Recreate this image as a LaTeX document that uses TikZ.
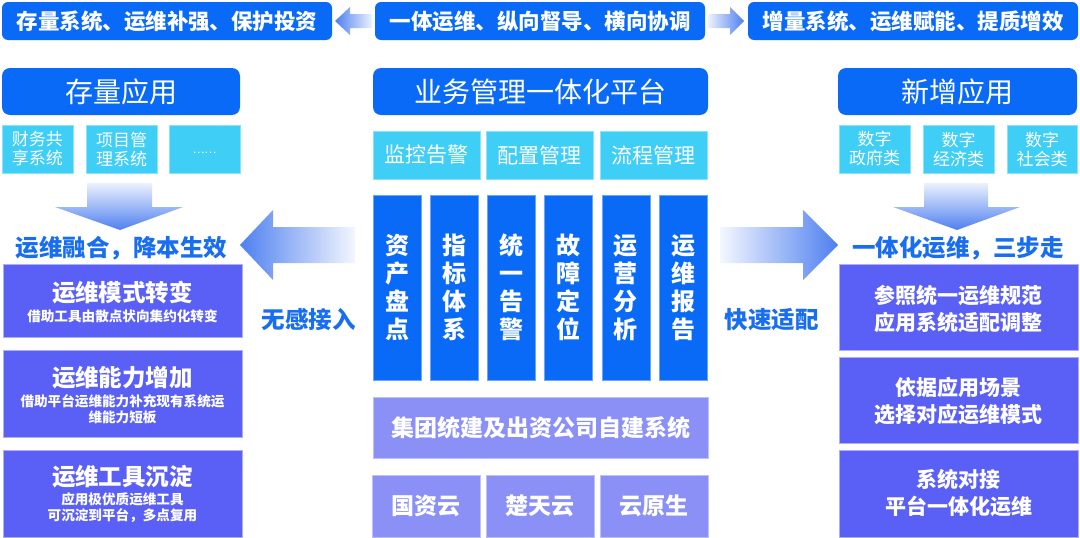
\documentclass[tikz,border=0pt]{standalone}
\usepackage{fontspec}
\newfontfamily\cjk{Noto Sans CJK SC}
\definecolor{mainblue}{RGB}{10,106,248}
\definecolor{cyanbox}{RGB}{62,206,246}
\definecolor{purplebox}{RGB}{90,96,246}
\definecolor{lavbox}{RGB}{138,144,246}
\definecolor{txtblue}{RGB}{24,110,240}
\definecolor{arrblue}{RGB}{78,128,240}
\definecolor{arrlight}{RGB}{236,241,253}
\tikzset{
  basebox/.style={inner sep=0pt, outer sep=0pt, text=white, align=center},
  topbox/.style={basebox, fill=mainblue, rounded corners=6pt, minimum width=330, minimum height=38,
    font=\cjk\bfseries\fontsize{21.5}{24}\selectfont},
  header/.style={basebox, fill=mainblue, rounded corners=8pt, minimum height=47,
    font=\cjk\fontsize{28}{30}\selectfont},
  smallbox/.style={basebox, fill=cyanbox, draw=cyanbox!60!white, line width=0.6pt, minimum width=71, minimum height=48,
    font=\cjk\fontsize{17}{19}\selectfont},
  midbox/.style={basebox, fill=cyanbox, draw=cyanbox!60!white, line width=0.6pt, minimum width=107, minimum height=48,
    font=\cjk\fontsize{21}{24}\selectfont},
  barbox/.style={basebox, fill=mainblue, draw=mainblue!60!white, line width=0.6pt, minimum width=48, minimum height=185,
    font=\cjk\bfseries\fontsize{24}{28}\selectfont},
  lavnode/.style={basebox, fill=lavbox, draw=lavbox!55!white, line width=0.8pt, minimum height=62,
    font=\cjk\bfseries\fontsize{23}{26}\selectfont},
  purpnode/.style={basebox, fill=purplebox, draw=purplebox!50!white, line width=0.8pt, minimum width=239},
  ttl/.style={inner sep=0pt, text=white, font=\cjk\bfseries\fontsize{23.5}{26}\selectfont},
  subttl/.style={inner sep=0pt, text=white, align=center, font=\cjk\bfseries\fontsize{13.6}{16.5}\selectfont},
  rtxt/.style={inner sep=0pt, text=white, align=center, font=\cjk\bfseries\fontsize{21}{27}\selectfont},
  bluetxt/.style={inner sep=0pt, text=txtblue, font=\cjk\bfseries\fontsize{23.5}{26}\selectfont},
}
\begin{document}
\begin{tikzpicture}[x=1pt,y=-1pt]
\useasboundingbox[fill=white] (0,0) rectangle (1080,538);

% top row
\node[topbox] (t1) at (167,21) {存量系统、运维补强、保护投资};
\node[topbox] (t2) at (540,21) {一体运维、纵向督导、横向协调};
\node[topbox] (t3) at (913,21) {增量系统、运维赋能、提质增效};
\shade[left color=arrblue, right color=arrlight]
  (335,21) -- (350,7) -- (350,14) -- (372,14) -- (372,28) -- (350,28) -- (350,35) -- cycle;
\shade[left color=arrlight, right color=arrblue]
  (708,14) -- (730,14) -- (730,7) -- (744,21) -- (730,35) -- (730,28) -- (708,28) -- cycle;

% headers
\node[header, minimum width=238] (hl) at (121,91.5) {存量应用};
\node[header, minimum width=335] (hc) at (540.5,91.5) {业务管理一体化平台};
\node[header, minimum width=239] (hr) at (957.5,91.5) {新增应用};

% small boxes left
\node[smallbox] (s1) at (37.5,149) {财务共\\享系统};
\node[smallbox] (s2) at (121.5,149) {项目管\\理系统};
\node[smallbox] (s3) at (204.5,149) {};
\node[inner sep=0pt, text=white, font=\cjk\fontsize{11}{13}\selectfont] (s3t) at (204.5,153) {……};
% small boxes right
\node[smallbox] (r1) at (874.5,149) {数字\\政府类};
\node[smallbox] (r2) at (958.5,149) {数字\\经济类};
\node[smallbox, minimum width=70] (r3) at (1042,149) {数字\\社会类};

% center mid boxes
\node[midbox] (m1) at (426.5,155) {监控告警};
\node[midbox] (m2) at (539.5,155) {配置管理};
\node[midbox] (m3) at (653.5,155) {流程管理};

% bars
\node[barbox] (b1) at (397,287.5) {资\\产\\盘\\点};
\node[barbox] (b2) at (454.2,287.5) {指\\标\\体\\系};
\node[barbox] (b3) at (511.4,287.5) {统\\一\\告\\警};
\node[barbox] (b4) at (568.6,287.5) {故\\障\\定\\位};
\node[barbox] (b5) at (625.8,287.5) {运\\营\\分\\析};
\node[barbox] (b6) at (683,287.5) {运\\维\\报\\告};

% lower center
\node[lavnode, minimum width=335, minimum height=61] (jt) at (540.5,427.5) {集团统建及出资公司自建系统};
\node[lavnode, minimum width=108] (c1) at (426,506) {国资云};
\node[lavnode, minimum width=108] (c2) at (540,506) {楚天云};
\node[lavnode, minimum width=108] (c3) at (654,506) {云原生};

% down arrows
\shade[top color=arrlight, bottom color=arrblue]
  (87,183) -- (152,183) -- (152,207) -- (183,207) -- (120,230) -- (55,207) -- (87,207) -- cycle;
\shade[top color=arrlight, bottom color=arrblue]
  (924,183) -- (988,183) -- (988,207) -- (1020,207) -- (957,230) -- (893,207) -- (924,207) -- cycle;

% big horizontal arrows
\shade[left color=arrblue, right color=arrlight!60!white]
  (240,245) -- (273,210) -- (273,227) -- (355,227) -- (355,263) -- (273,263) -- (273,280) -- cycle;
\shade[left color=arrlight!60!white, right color=arrblue]
  (720,227) -- (803,227) -- (803,210) -- (838,245) -- (803,280) -- (803,263) -- (720,263) -- cycle;

\node[bluetxt] (lt) at (121.5,248) {运维融合，降本生效};
\node[bluetxt] (rt) at (958,248) {一体化运维，三步走};
\node[bluetxt] (wg) at (308.5,320) {无感接入};
\node[bluetxt] (ks) at (771.5,320) {快速适配};

% left blocks
\node[purpnode, minimum height=73] (L1) at (122.5,300.5) {};
\node[purpnode, minimum height=87] (L2) at (122.5,393.5) {};
\node[purpnode, minimum height=87] (L3) at (122.5,493.5) {};
\node[ttl] (L1t) at (122.5,293) {运维模式转变};
\node[subttl] (L1s) at (122.5,316) {借助工具由散点状向集约化转变};
\node[ttl] (L2t) at (122.5,378) {运维能力增加};
\node[subttl] (L2s) at (122.5,409) {借助平台运维能力补充现有系统运\\维能力短板};
\node[ttl] (L3t) at (122.5,477) {运维工具沉淀};
\node[subttl] (L3s) at (122.5,507.5) {应用极优质运维工具\\可沉淀到平台，多点复用};

% right blocks
\node[purpnode, minimum height=86] (R1) at (958.5,307) {};
\node[purpnode, minimum height=86] (R2) at (958.5,400) {};
\node[purpnode, minimum height=87] (R3) at (958.5,493.5) {};
\node[rtxt] (R1t) at (958.5,308.5) {参照统一运维规范\\应用系统适配调整};
\node[rtxt] (R2t) at (958.5,401.5) {依据应用场景\\选择对应运维模式};
\node[rtxt] (R3t) at (958.5,493.5) {系统对接\\平台一体化运维};
\end{tikzpicture}
\end{document}
